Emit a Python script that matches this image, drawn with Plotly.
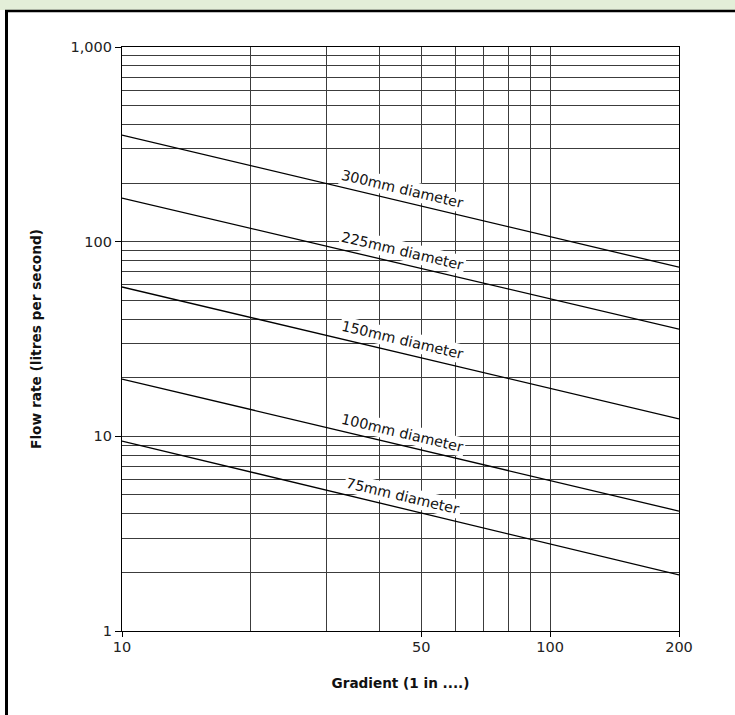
import numpy as np
import plotly.graph_objects as go

# ---- data ----
gradient = [10, 200]
flow_300mm = [353, 73.9]
flow_225mm = [167.6, 35.5]
flow_150mm = [58.5, 12.3]
flow_100mm = [19.7, 4.13]
flow_75mm = [9.46, 1.94]
series_names = ["300mm diameter", "225mm diameter", "150mm diameter",
                "100mm diameter", "75mm diameter"]
series_values = [flow_300mm, flow_225mm, flow_150mm, flow_100mm, flow_75mm]

x_tickvals = [10, 50, 100, 200]
x_ticktext = ["10", "50", "100", "200"]
x_minor_vals = [20, 30, 40, 60, 70, 80, 90]
y_tickvals = [1, 10, 100, 1000]
y_ticktext = ["1", "10", "100", "1,000"]
y_minor_vals = [2, 3, 4, 5, 6, 7, 8, 9,
                20, 30, 40, 50, 60, 70, 80, 90,
                200, 300, 400, 500, 600, 700, 800, 900]
label_gradient = 44.8  # where the line labels sit

# ---- figure geometry ----
W, H = 735, 715
ML, MR, MT, MB = 122, 56, 47, 84
PW, PH = W - ML - MR, H - MT - MB

FONT = "DejaVu Sans, Liberation Sans, Arial, sans-serif"
GRID = "#3c3c3c"

fig = go.Figure()
for name, vals in zip(series_names, series_values):
    fig.add_trace(go.Scatter(x=gradient, y=vals, mode="lines", name=name,
                             line=dict(color="black", width=1.3),
                             showlegend=False, hoverinfo="skip"))
    lx0, lx1 = np.log10(gradient)
    ly0, ly1 = np.log10(vals)
    lx = np.log10(label_gradient)
    ly = ly0 + (lx - lx0) / (lx1 - lx0) * (ly1 - ly0)
    fig.add_annotation(x=lx, y=ly, xref="x", yref="y", text=name,
                       showarrow=False, textangle=13.3,
                       font=dict(family=FONT, size=14.3, color="#111"),
                       bgcolor="white", borderpad=1,
                       xshift=2, yshift=12.5)

axis_common = dict(type="log", showline=True, linecolor="black", linewidth=1.3,
                   mirror=True, ticks="outside", tickcolor="black", tickwidth=1.2,
                   showgrid=True, gridcolor=GRID, gridwidth=1.3, zeroline=False,
                   tickfont=dict(family=FONT, size=14.5, color="#222"))

fig.update_xaxes(**axis_common, range=[1, np.log10(200)], ticklen=5,
                 ticklabelstandoff=-3,
                 tickmode="array", tickvals=x_tickvals, ticktext=x_ticktext,
                 minor=dict(tickmode="array", tickvals=x_minor_vals, showgrid=True,
                            gridcolor=GRID, gridwidth=1.3, ticks=""),
                 title=dict(text="<b>Gradient (1 in ....)</b>", standoff=24,
                            font=dict(family=FONT, size=13.6, color="#111")))
fig.update_yaxes(**axis_common, range=[0, 3], ticklen=6,
                 tickmode="array", tickvals=y_tickvals, ticktext=y_ticktext,
                 minor=dict(tickmode="array", tickvals=y_minor_vals, showgrid=True,
                            gridcolor=GRID, gridwidth=1.3, ticks=""),
                 title=dict(text="<b>Flow rate (litres per second)</b>", standoff=25,
                            font=dict(family=FONT, size=13.7, color="#111")))

def px_x(px):
    return (px - ML) / PW

def px_y(py):
    return (H - MB - py) / PH

# decorative frame: green band on top, black border top and left
fig.add_shape(type="rect", xref="paper", yref="paper",
              x0=px_x(-5), x1=px_x(W + 5), y0=px_y(10), y1=px_y(-5),
              fillcolor="#e3eed8", line=dict(width=0), layer="above")
fig.add_shape(type="line", xref="paper", yref="paper",
              x0=px_x(5), x1=px_x(W + 5), y0=px_y(11), y1=px_y(11),
              line=dict(color="black", width=2.5), layer="above")
fig.add_shape(type="line", xref="paper", yref="paper",
              x0=px_x(6.5), x1=px_x(6.5), y0=px_y(10), y1=px_y(H + 5),
              line=dict(color="black", width=3), layer="above")

fig.update_layout(width=W, height=H, template="none",
                  margin=dict(l=ML, r=MR, t=MT, b=MB, autoexpand=False),
                  paper_bgcolor="white", plot_bgcolor="white",
                  font=dict(family=FONT))

fig.write_html("out.html", config={"displayModeBar": False},
               post_script="document.body.style.margin='0';"
                           "document.body.style.overflow='hidden';")
